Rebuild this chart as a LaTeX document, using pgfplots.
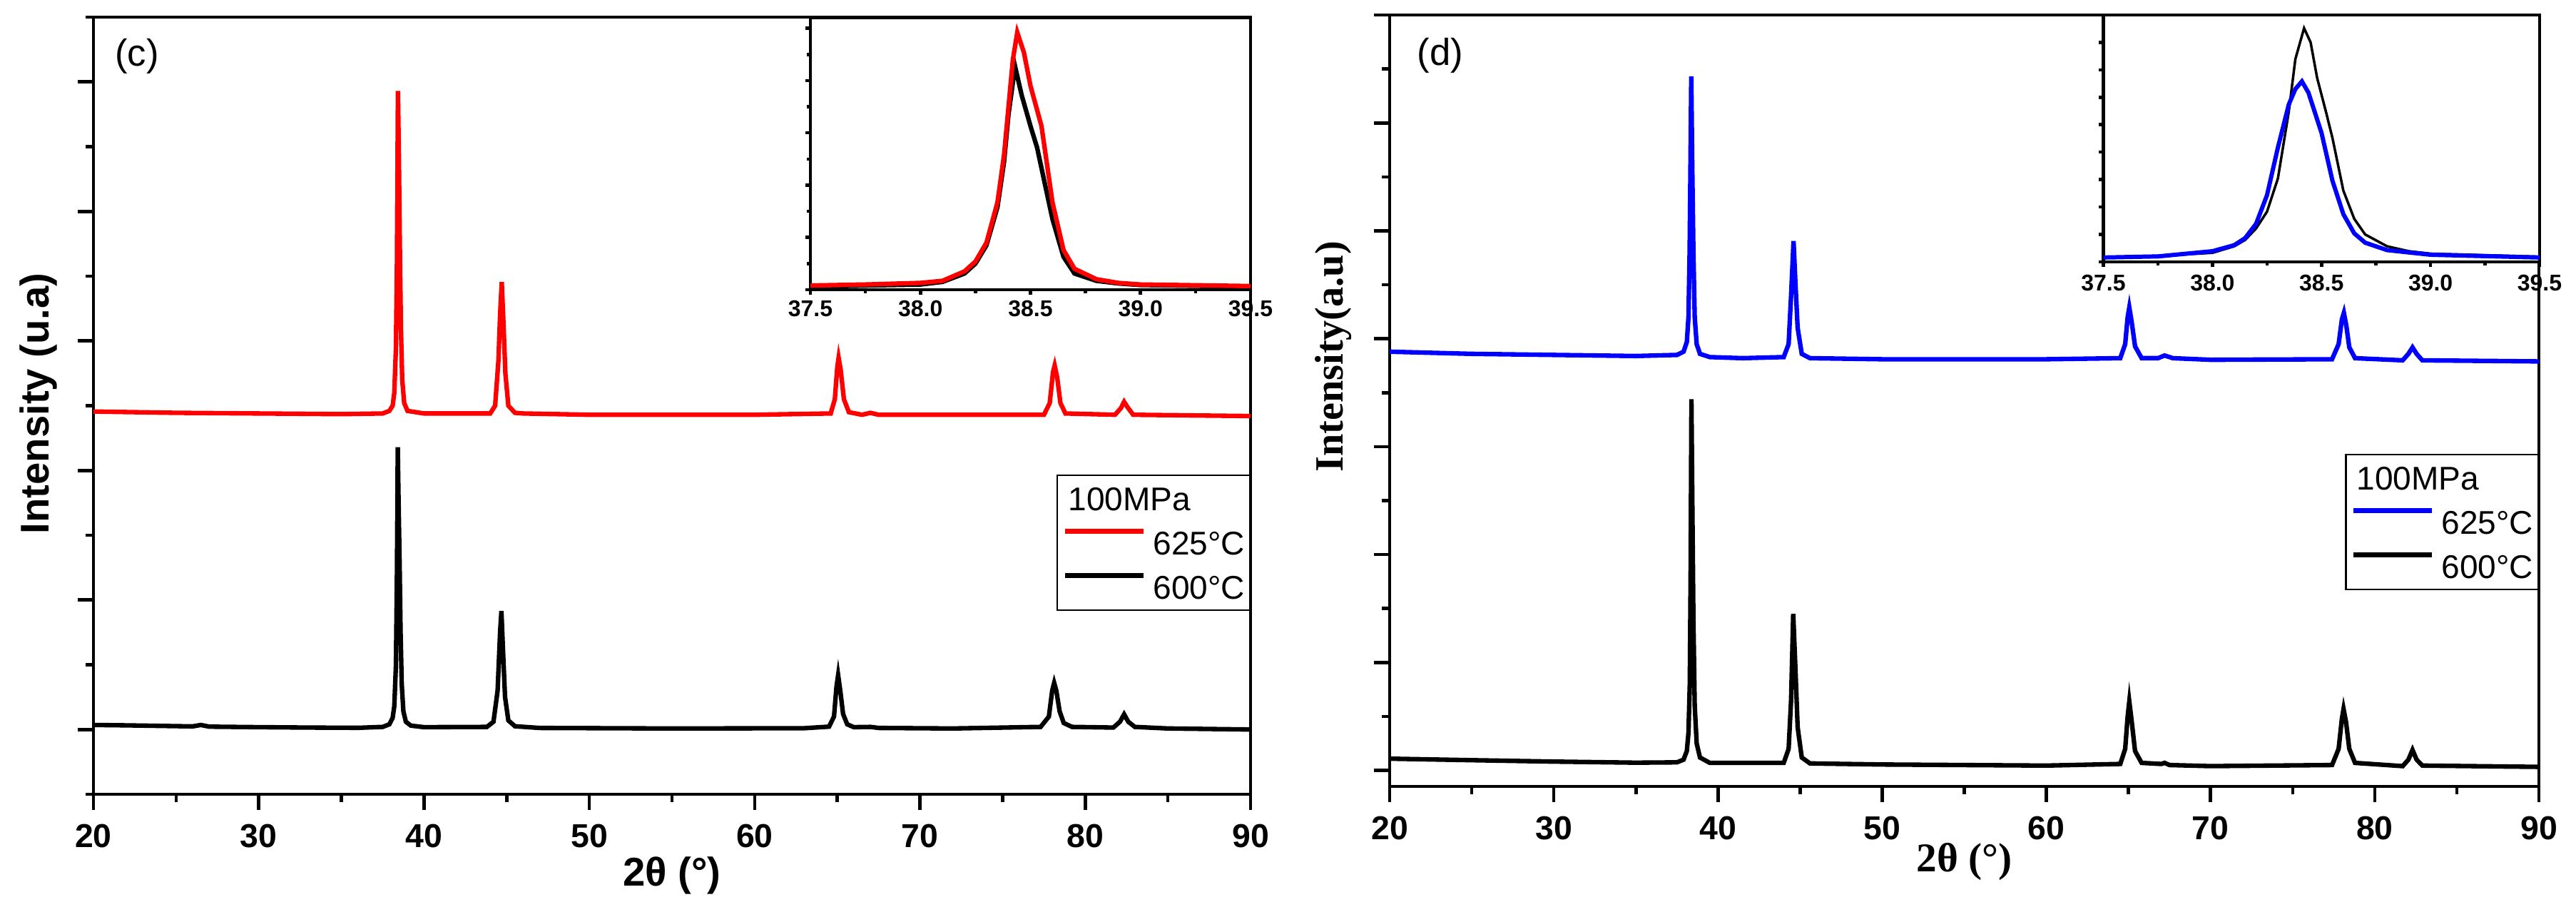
\documentclass[border=0pt]{standalone}
\usepackage{fontspec}
\setmainfont{Liberation Sans}
\newfontfamily\tnr{Liberation Serif}
\usepackage{pgfplots}
\pgfplotsset{compat=1.18}

\pgfplotsset{
  mainax/.style={
    scale only axis, xmin=20, xmax=90,
    xtick={20,30,...,90}, minor x tick num=1,
    tick align=outside, xtick pos=bottom, ytick pos=left,
    major tick length=0.22cm, minor tick length=0.11cm,
    yticklabels={},
    axis line style={line width=1.3pt},
    every tick/.style={line width=1.3pt, black},
    /pgf/number format/assume math mode=true,
    xticklabel style={font=\fontsize{13.2}{15}\selectfont\bfseries, anchor=center, yshift=-0.37cm},
    legend cell align=left,
    legend style={draw=black, line width=0.6pt, fill=white, inner xsep=0.07cm, inner ysep=0.16cm,
      nodes={inner sep=0pt, text height=9.4pt, text depth=0pt, font=\fontsize{13.1}{15}\selectfont},
      row sep=7.4pt, column sep=0.1cm},
    legend image code/.code={\draw[##1, line width=2pt] (0cm,0.16cm) -- (1.1cm,0.16cm);},
  },
  insetax/.style={
    scale only axis, xmin=37.5, xmax=39.5,
    xtick={37.5,38,38.5,39,39.5}, xticklabels={37.5,38.0,38.5,39.0,39.5},
    minor x tick num=1, minor y tick num=1,
    tick align=outside, xtick pos=bottom, ytick pos=left,
    major tick length=0.07cm, minor tick length=0.05cm,
    yticklabels={},
    axis background/.style={fill=white},
    axis line style={line width=1.3pt},
    every tick/.style={line width=1.3pt, black},
    xticklabel style={font=\fontsize{9.1}{11}\selectfont\bfseries, anchor=center, yshift=-0.2cm},
  },
}

\begin{document}
\begin{tikzpicture}
\path[use as bounding box] (0,0) rectangle (36.11cm,12.84cm);

% ---------------- Panel (c) ----------------
\begin{axis}[mainax,
  at={(1.31cm,1.71cm)}, anchor=south west,
  width=16.22cm, height=10.89cm,
  ymin=-0.5, ymax=5.5, ytick={0,1,...,5}, minor ytick={-0.5,0.5,...,5.5},
  xlabel={\fontsize{16}{18}\selectfont\bfseries 2θ (°)},
  xlabel style={at={(axis description cs:0.5,-0.105)}, anchor=center},
  ylabel={\fontsize{16}{18}\selectfont\bfseries Intensity (u.a)},
  ylabel style={at={(axis description cs:-0.0475,0.503)}, anchor=center},
  legend style={at={(axis description cs:1,0.4114)}, anchor=north east},
]
\addlegendimage{empty legend}
\addlegendentry{\hspace*{-1.19cm}100MPa}
\addplot[red, line width=1.8pt] coordinates {
(20,2.455) (25,2.445) (30,2.44) (35,2.435) (37.5,2.44) (37.9,2.46) (38.1,2.5) (38.2,2.6) (38.3,2.95) (38.36,3.6) (38.42,4.93) (38.47,4.5) (38.53,3.8) (38.6,3.1) (38.68,2.7) (38.8,2.52) (39.0,2.46) (40,2.44)
(44,2.44) (44.3,2.5) (44.5,2.85) (44.6,3.2) (44.7,3.455) (44.8,3.15) (44.92,2.75) (45.1,2.5) (45.5,2.445) (46,2.44) (50,2.43) (60,2.43)
(64.6,2.44) (64.85,2.55) (65.0,2.8) (65.08,2.87) (65.2,2.78) (65.4,2.55) (65.7,2.45) (66.5,2.43) (67.0,2.445) (67.5,2.43)
(77.5,2.43) (77.85,2.52) (78.05,2.76) (78.15,2.81) (78.3,2.72) (78.5,2.52) (78.8,2.44) (81.8,2.43) (82.15,2.48) (82.35,2.53) (82.55,2.49) (82.9,2.43) (90,2.42)};
\addlegendentry{625°C}
\addplot[black, line width=1.8pt] coordinates {
(20,0.035) (22,0.032) (24,0.028) (26,0.024) (26.5,0.035) (27,0.022) (30,0.018) (33,0.015) (36,0.013) (37.5,0.02) (37.9,0.04) (38.1,0.09) (38.2,0.18) (38.3,0.5) (38.36,1.2) (38.41,2.18) (38.46,1.75) (38.52,1.3) (38.58,0.75) (38.65,0.35) (38.75,0.14) (38.9,0.06) (39.2,0.03) (40,0.018)
(43.8,0.02) (44.2,0.06) (44.45,0.3) (44.6,0.75) (44.68,0.915) (44.78,0.6) (44.9,0.25) (45.1,0.07) (45.5,0.025) (47,0.012) (55,0.008) (63,0.01)
(64.5,0.022) (64.8,0.1) (64.95,0.33) (65.05,0.42) (65.18,0.3) (65.35,0.12) (65.6,0.04) (66,0.018) (67,0.02) (67.5,0.012) (72,0.008)
(77.3,0.02) (77.8,0.1) (78.0,0.3) (78.12,0.36) (78.25,0.3) (78.45,0.14) (78.7,0.05) (79.2,0.02) (81.7,0.015) (82.1,0.06) (82.35,0.117) (82.6,0.06) (83,0.02) (85,0.008) (90,0.0)};
\addlegendentry{600°C}
\node[anchor=center, font=\fontsize{15}{17}\selectfont] at (axis description cs:0.0376,0.9495) {(c)};
\end{axis}

% inset (c)
\begin{axis}[insetax,
  at={(11.36cm,8.78cm)}, anchor=south west,
  width=6.17cm, height=3.81cm,
  ymin=0, ymax=5.2, ytick={0,1,...,5},
]
\addplot[black, line width=1.8pt] coordinates {
(37.5,0.06) (38.0,0.1) (38.1,0.15) (38.2,0.31) (38.25,0.5) (38.3,0.85) (38.35,1.58) (38.38,2.45) (38.4,3.35) (38.43,4.27) (38.46,3.72) (38.5,3.13) (38.53,2.72) (38.56,2.13) (38.6,1.35) (38.65,0.63) (38.7,0.31) (38.8,0.17) (38.9,0.12) (39.0,0.09) (39.5,0.06)};
\addplot[red, line width=1.8pt] coordinates {
(37.5,0.08) (37.75,0.1) (38.0,0.13) (38.1,0.17) (38.2,0.35) (38.25,0.54) (38.3,0.9) (38.35,1.67) (38.38,2.58) (38.4,3.49) (38.42,4.4) (38.44,4.92) (38.47,4.54) (38.5,3.9) (38.55,3.13) (38.6,1.67) (38.65,0.76) (38.7,0.4) (38.8,0.2) (38.9,0.13) (39.0,0.1) (39.5,0.07)};
\end{axis}

% ---------------- Panel (d) ----------------
\begin{axis}[mainax,
  at={(19.48cm,1.82cm)}, anchor=south west,
  width=16.11cm, height=10.81cm,
  ymin=-0.148, ymax=7, ytick={0,1,...,7}, minor ytick={0.5,1.5,...,6.5},
  xlabel={\tnr\fontsize{16.3}{18}\selectfont\bfseries 2θ (°)},
  xlabel style={at={(axis description cs:0.5,-0.098)}, anchor=center},
  ylabel={\tnr\fontsize{16}{18}\selectfont\bfseries Intensity(a.u)},
  ylabel style={at={(axis description cs:-0.0490,0.557)}, anchor=center},
  legend style={at={(axis description cs:1,0.4311)}, anchor=north east},
]
\addlegendimage{empty legend}
\addlegendentry{\hspace*{-1.19cm}100MPa}
\addplot[blue, line width=1.8pt] coordinates {
(20,3.88) (25,3.86) (30,3.85) (35,3.84) (37.5,3.85) (37.9,3.88) (38.1,3.97) (38.2,4.2) (38.27,4.8) (38.32,5.6) (38.37,6.43) (38.43,5.6) (38.5,4.8) (38.58,4.2) (38.7,3.95) (38.9,3.86) (39.5,3.83) (41.5,3.82)
(44,3.83) (44.3,3.95) (44.45,4.4) (44.6,4.905) (44.72,4.5) (44.85,4.1) (45.1,3.86) (45.6,3.82) (50,3.81) (60,3.81)
(64.5,3.82) (64.8,3.95) (64.95,4.2) (65.05,4.29) (65.2,4.15) (65.4,3.93) (65.8,3.82) (66.8,3.82) (67.2,3.845) (67.7,3.82) (70,3.805)
(77.4,3.81) (77.8,3.95) (78.0,4.18) (78.12,4.24) (78.27,4.12) (78.45,3.92) (78.8,3.82) (81.7,3.8) (82.05,3.86) (82.3,3.92) (82.55,3.86) (82.9,3.8) (90,3.79)};
\addlegendentry{625°C}
\addplot[black, line width=1.8pt] coordinates {
(20,0.109) (25,0.095) (30,0.082) (35,0.072) (37.5,0.075) (37.9,0.1) (38.1,0.18) (38.2,0.35) (38.28,0.8) (38.33,1.8) (38.38,3.44) (38.44,2.4) (38.5,1.4) (38.58,0.6) (38.7,0.25) (38.9,0.12) (39.5,0.07)
(44,0.07) (44.3,0.2) (44.45,0.65) (44.58,1.45) (44.7,1.0) (44.85,0.4) (45.1,0.12) (45.6,0.065) (50,0.055) (60,0.045)
(64.5,0.06) (64.8,0.2) (64.95,0.5) (65.05,0.64) (65.2,0.45) (65.4,0.18) (65.8,0.07) (67.0,0.06) (67.2,0.07) (67.5,0.05) (70,0.04)
(77.4,0.05) (77.8,0.2) (78.0,0.48) (78.1,0.57) (78.25,0.45) (78.45,0.2) (78.8,0.07) (81.7,0.04) (82.05,0.1) (82.3,0.19) (82.55,0.1) (82.9,0.045) (90,0.033)};
\addlegendentry{600°C}
\node[anchor=center, font=\fontsize{15}{17}\selectfont] at (axis description cs:0.044,0.947) {(d)};
\end{axis}

% inset (d)
\begin{axis}[insetax,
  at={(29.485cm,9.17cm)}, anchor=south west,
  width=6.115cm, height=3.46cm,
  ymin=0, ymax=9, ytick={0,1,...,9}, minor y tick num=0,
  xticklabel style={yshift=-0.03cm},
]
\addplot[black, line width=1.0pt] coordinates {
(37.5,0.17) (37.75,0.22) (38.0,0.33) (38.1,0.57) (38.15,0.8) (38.2,1.22) (38.25,1.83) (38.3,3.04) (38.35,5.48) (38.38,7.39) (38.42,8.52) (38.45,8.0) (38.48,6.7) (38.52,5.48) (38.55,4.52) (38.6,2.6) (38.65,1.57) (38.7,1.0) (38.8,0.57) (38.9,0.39) (39.0,0.3) (39.5,0.19)};
\addplot[blue, line width=1.7pt] coordinates {
(37.5,0.16) (37.75,0.2) (38.0,0.39) (38.1,0.61) (38.15,0.87) (38.2,1.39) (38.25,2.43) (38.3,4.17) (38.35,5.74) (38.38,6.3) (38.41,6.58) (38.44,6.17) (38.5,4.7) (38.55,2.96) (38.6,1.74) (38.65,1.04) (38.7,0.7) (38.8,0.43) (39.0,0.26) (39.5,0.16)};
\end{axis}
\end{tikzpicture}
\end{document}
